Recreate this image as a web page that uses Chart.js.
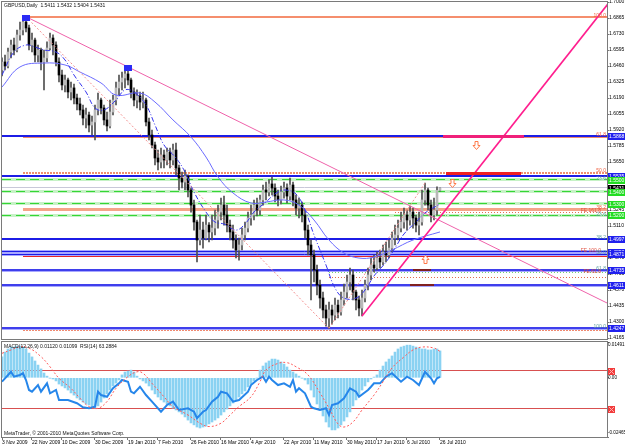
<!DOCTYPE html>
<html><head><meta charset="utf-8">
<script src="https://cdn.jsdelivr.net/npm/chart.js@4.4.1/dist/chart.umd.min.js"></script>
<style>
html,body{margin:0;padding:0;background:#fff;overflow:hidden;width:625px;height:446px}
#c1{position:absolute;left:0;top:0}
#c2{position:absolute;left:0;top:341px}
</style>
</head><body>
<canvas id="c1" width="625" height="341"></canvas>
<canvas id="c2" width="625" height="105"></canvas>
<script>
// ---------- DATA ----------
const titleText = 'GBPUSD,Daily  1.5411 1.5432 1.5404 1.5431';
const macdTitle = 'MACD(12,26,9) 0.01120 0.01099  RSI(14) 63.2884';
const copyrightText = 'MetaTrader, \u00A9 2001-2010 MetaQuotes Software Corp.';

const xTickIdx = [0,10,20,31,42,52,63,73,83,94,104,115,125,135,146];
const xTickLabels = ['3 Nov 2009','22 Nov 2009','10 Dec 2009','30 Dec 2009','19 Jan 2010','7 Feb 2010','26 Feb 2010','16 Mar 2010','4 Apr 2010','22 Apr 2010','11 May 2010','30 May 2010','17 Jun 2010','6 Jul 2010','26 Jul 2010'];
const priceTicks = [1.7000,1.6865,1.6730,1.6595,1.6460,1.6325,1.6190,1.6055,1.5920,1.5785,1.5650,1.5515,1.5380,1.5245,1.5110,1.4975,1.4840,1.4705,1.4570,1.4435,1.4300,1.4165];

const open = [1.6426,
1.6494,1.6460,1.6578,1.6637,1.6595,1.6722,1.6764,1.6831,1.6781,1.6637,
1.6679,1.6553,1.6595,1.6494,1.6528,1.6612,1.6696,1.6637,1.6494,1.6384,
1.6300,1.6342,1.6241,1.6275,1.6190,1.6140,1.6089,1.6021,1.6047,1.5962,
1.5988,1.6089,1.6173,1.6106,1.6005,1.5954,1.6072,1.6173,1.6275,1.6325,
1.6359,1.6393,1.6342,1.6241,1.6173,1.6207,1.6156,1.6173,1.5988,1.5878,
1.5794,1.5684,1.5650,1.5709,1.5667,1.5734,1.5667,1.5751,1.5600,1.5515,
1.5481,1.5532,1.5414,1.5287,1.5144,1.4992,1.5076,1.5009,1.5118,1.5060,
1.5093,1.5161,1.5228,1.5287,1.5203,1.5118,1.5060,1.4992,1.4908,1.4950,
1.5035,1.5093,1.5178,1.5203,1.5287,1.5245,1.5330,1.5414,1.5397,1.5465,
1.5431,1.5363,1.5330,1.5397,1.5431,1.5363,1.5456,1.5330,1.5262,1.5287,
1.5203,1.5076,1.4950,1.4866,1.4739,1.4612,1.4503,1.4402,1.4334,1.4402,
1.4359,1.4443,1.4385,1.4486,1.4553,1.4638,1.4697,1.4553,1.4486,1.4418,
1.4503,1.4612,1.4697,1.4781,1.4756,1.4840,1.4807,1.4891,1.4866,1.4924,
1.5009,1.5035,1.5093,1.5144,1.5203,1.5161,1.5228,1.5178,1.5118,1.5144,
1.5330,1.5414,1.5287,1.5203,1.5245,1.5411];
const high = [
1.6528,1.6553,1.6612,1.6679,1.6696,1.6764,1.6831,1.6865,1.6876,1.6806,
1.6738,1.6696,1.6637,1.6612,1.6595,1.6663,1.6738,1.6722,1.6663,1.6528,
1.6426,1.6384,1.6359,1.6325,1.6308,1.6224,1.6190,1.6131,1.6106,1.6072,
1.6038,1.6131,1.6232,1.6190,1.6131,1.6072,1.6173,1.6215,1.6325,1.6384,
1.6409,1.6426,1.6452,1.6359,1.6275,1.6258,1.6241,1.6241,1.6190,1.6021,
1.5920,1.5819,1.5751,1.5768,1.5751,1.5768,1.5768,1.5802,1.5810,1.5625,
1.5566,1.5583,1.5541,1.5431,1.5330,1.5160,1.5203,1.5144,1.5203,1.5140,
1.5203,1.5245,1.5287,1.5346,1.5363,1.5287,1.5161,1.5118,1.5035,1.5009,
1.5093,1.5144,1.5228,1.5287,1.5330,1.5346,1.5372,1.5456,1.5481,1.5498,
1.5524,1.5465,1.5414,1.5448,1.5481,1.5465,1.5515,1.5481,1.5372,1.5346,
1.5313,1.5245,1.5118,1.4992,1.4908,1.4781,1.4655,1.4553,1.4443,1.4469,
1.4443,1.4503,1.4486,1.4553,1.4621,1.4697,1.4756,1.4739,1.4570,1.4520,
1.4570,1.4655,1.4756,1.4840,1.4866,1.4891,1.4908,1.4950,1.4975,1.4992,
1.5060,1.5118,1.5161,1.5228,1.5262,1.5245,1.5279,1.5262,1.5203,1.5228,
1.5414,1.5473,1.5431,1.5330,1.5346,1.5440,1.5432];
const low = [
1.6376,1.6426,1.6443,1.6528,1.6553,1.6578,1.6679,1.6722,1.6747,1.6595,
1.6578,1.6494,1.6494,1.6426,1.6258,1.6494,1.6595,1.6553,1.6460,1.6325,
1.6258,1.6241,1.6190,1.6173,1.6140,1.6089,1.6047,1.5962,1.5937,1.5903,
1.5878,1.5836,1.6047,1.6055,1.5962,1.5912,1.5937,1.6047,1.6131,1.6215,
1.6258,1.6275,1.6300,1.6190,1.6123,1.6106,1.6089,1.6106,1.5954,1.5836,
1.5768,1.5625,1.5583,1.5600,1.5600,1.5625,1.5600,1.5625,1.5541,1.5414,
1.5431,1.5414,1.5355,1.5228,1.5076,1.4807,1.4950,1.4924,1.4992,1.4975,
1.4992,1.5035,1.5093,1.5161,1.5118,1.5060,1.4992,1.4924,1.4840,1.4823,
1.4908,1.4992,1.5060,1.5118,1.5161,1.5195,1.5203,1.5287,1.5330,1.5363,
1.5372,1.5313,1.5279,1.5296,1.5346,1.5304,1.5330,1.5279,1.5203,1.5178,
1.5144,1.5009,1.4866,1.4486,1.4638,1.4528,1.4418,1.4334,1.4266,1.4247,
1.4283,1.4317,1.4334,1.4359,1.4443,1.4503,1.4570,1.4486,1.4402,1.4351,
1.4351,1.4469,1.4570,1.4655,1.4722,1.4739,1.4756,1.4781,1.4807,1.4840,
1.4891,1.4950,1.4992,1.5060,1.5093,1.5076,1.5118,1.5093,1.5060,1.5035,
1.5118,1.5287,1.5245,1.5144,1.5161,1.5203,1.5404];
const close = [
1.6494,1.6460,1.6578,1.6637,1.6595,1.6722,1.6764,1.6831,1.6781,1.6637,
1.6679,1.6553,1.6595,1.6494,1.6528,1.6612,1.6696,1.6637,1.6494,1.6384,
1.6300,1.6342,1.6241,1.6275,1.6190,1.6140,1.6089,1.6021,1.6047,1.5962,
1.5988,1.6089,1.6173,1.6106,1.6005,1.5954,1.6072,1.6173,1.6275,1.6325,
1.6359,1.6393,1.6342,1.6241,1.6173,1.6207,1.6156,1.6173,1.5988,1.5878,
1.5794,1.5684,1.5650,1.5709,1.5667,1.5734,1.5667,1.5751,1.5600,1.5515,
1.5481,1.5532,1.5414,1.5287,1.5144,1.4992,1.5076,1.5009,1.5118,1.5060,
1.5093,1.5161,1.5228,1.5287,1.5203,1.5118,1.5060,1.4992,1.4908,1.4950,
1.5035,1.5093,1.5178,1.5203,1.5287,1.5245,1.5330,1.5414,1.5397,1.5465,
1.5431,1.5363,1.5330,1.5397,1.5431,1.5363,1.5456,1.5330,1.5262,1.5287,
1.5203,1.5076,1.4950,1.4866,1.4739,1.4612,1.4503,1.4402,1.4334,1.4402,
1.4359,1.4443,1.4385,1.4486,1.4553,1.4638,1.4697,1.4553,1.4486,1.4418,
1.4503,1.4612,1.4697,1.4781,1.4756,1.4840,1.4807,1.4891,1.4866,1.4924,
1.5009,1.5035,1.5093,1.5144,1.5203,1.5161,1.5228,1.5178,1.5118,1.5144,
1.5330,1.5414,1.5287,1.5203,1.5245,1.5411,1.5431];

const maSlowIdx = [0,6,14,21,26,33,38,46,51,57,63,68,72,77,83,88,94,99,104,109,114,119,124,130,137,146];
const maSlowVal = [1.6283,1.6452,1.6485,1.6469,1.6409,1.6317,1.6215,1.6232,1.6156,1.6005,1.5861,1.5692,1.5524,1.5389,1.5304,1.5313,1.5330,1.5287,1.5161,1.4992,1.4882,1.4840,1.4848,1.4908,1.4992,1.5060];
const maFastIdx = [0,4,8,11,14,18,21,24,28,31,34,38,41,44,48,51,54,58,61,64,68,71,74,78,81,84,88,91,94,98,101,104,108,111,114,118,121,124,128,131,134,138,141,146];
const maFastVal = [1.6384,1.6578,1.6637,1.6620,1.6595,1.6578,1.6511,1.6384,1.6241,1.6106,1.6089,1.6173,1.6258,1.6241,1.6131,1.5962,1.5794,1.5684,1.5566,1.5397,1.5228,1.5144,1.5127,1.5076,1.5127,1.5228,1.5313,1.5380,1.5414,1.5380,1.5245,1.5035,1.4781,1.4587,1.4502,1.4502,1.4570,1.4689,1.4806,1.4924,1.5043,1.5144,1.5220,1.5296];

// horizontal levels
const fibStartIdx = 7;
const fibLevels = [1.6876,1.5861,1.5555,1.5251,1.4857,1.4233];
const blueLevels = [1.5868,1.5535,1.4997,1.4893,1.4871,1.4735,1.4611,1.4247];
const greenLevels = [1.5500,1.5400,1.5300,1.5200];
const currentPrice = 1.5431;
const fePrices = [1.5224,1.5195,1.4714,1.4680];
const feStartIdx = [131,131,109,109];

// trend lines (anchor bar index / price)
const trendPinkIdx = [8,42],   trendPinkPrice = [1.6876,1.6452];
const trendUpIdx = [120,146],  trendUpPrice = [1.4351,1.5186];
const fibDiag1Idx = [8,109],   fibDiag1Price = [1.6876,1.4247];
const fibDiag2Idx = [109,141], fibDiag2Price = [1.4247,1.5473];
const segIdx = [[147,174],[148,173],[137,143],[136,144]];
const segPrice = [1.5865,1.5553,1.4739,1.4613];
const downArrowIdx = [158,150], downArrowPrice = [1.5827,1.5507];
const upArrowIdx = [141], upArrowPrice = [1.4866];
const markerIdx = [8,42], markerPrice = [1.6876,1.6452];

const levelTexts = ['100.0','61.8','50.0','23.6','38.2','FE 161.8','23.6','38.2','FE 100.0','50.0','61.8','FE 61.8','100.0'];
const levelTextPrices = [1.6876,1.5868,1.5562,1.5500,1.5251,1.5226,1.5195,1.4997,1.4893,1.4871,1.4735,1.4714,1.4247];
const boxLabelVals = [1.5868,1.5535,1.5500,1.5431,1.5400,1.5300,1.5200,1.4997,1.4893,1.4871,1.4735,1.4611,1.4247];

// MACD / RSI
const macdHist = [
0.0087,0.0107,0.0120,0.0128,0.0128,0.0132,0.0132,0.0128,0.0120,0.0103,
0.0087,0.0070,0.0053,0.0037,0.0020,0.0007,-0.0001,-0.0005,-0.0013,-0.0026,
-0.0034,-0.0042,-0.0051,-0.0063,-0.0072,-0.0084,-0.0092,-0.0101,-0.0109,-0.0113,
-0.0121,-0.0126,-0.0117,-0.0101,-0.0084,-0.0067,-0.0051,-0.0034,-0.0022,-0.0009,
0.0012,0.0024,0.0028,0.0032,0.0024,0.0007,-0.0005,-0.0013,-0.0022,-0.0034,
-0.0051,-0.0067,-0.0080,-0.0092,-0.0101,-0.0109,-0.0117,-0.0126,-0.0134,-0.0142,
-0.0151,-0.0163,-0.0176,-0.0188,-0.0196,-0.0205,-0.0209,-0.0205,-0.0201,-0.0192,
-0.0184,-0.0176,-0.0167,-0.0155,-0.0142,-0.0130,-0.0117,-0.0105,-0.0092,-0.0080,
-0.0067,-0.0055,-0.0038,-0.0026,-0.0013,-0.0001,0.0032,0.0049,0.0062,0.0070,
0.0078,0.0078,0.0074,0.0066,0.0057,0.0045,0.0032,0.0024,0.0016,0.0007,
-0.0001,-0.0009,-0.0026,-0.0051,-0.0080,-0.0109,-0.0134,-0.0159,-0.0184,-0.0205,
-0.0217,-0.0217,-0.0209,-0.0196,-0.0180,-0.0163,-0.0142,-0.0117,-0.0092,-0.0072,
-0.0051,-0.0034,-0.0017,-0.0005,0.0003,0.0012,0.0032,0.0049,0.0066,0.0078,
0.0091,0.0107,0.0120,0.0128,0.0132,0.0136,0.0136,0.0132,0.0128,0.0124,
0.0120,0.0120,0.0116,0.0116,0.0120,0.0120,0.0112];
const sigIdx = [0,3,6,9,13,16,19,23,26,29,32,35,38,42,45,47,50,54,57,62,66,69,73,76,79,83,86,88,92,95,98,102,106,109,112,114,117,120,124,127,130,134,137,140,144,146];
const sigVal = [0.0102,0.0116,0.0129,0.0124,0.0088,0.0046,-0.0002,-0.0044,-0.0085,-0.0120,-0.0127,-0.0099,-0.0044,0.0005,0.0025,0.0019,-0.0023,-0.0079,-0.0120,-0.0155,-0.0189,-0.0203,-0.0189,-0.0155,-0.0120,-0.0079,-0.0016,0.0032,0.0060,0.0063,0.0046,0.0012,-0.0063,-0.0126,-0.0192,-0.0205,-0.0184,-0.0134,-0.0072,-0.0017,0.0041,0.0087,0.0116,0.0128,0.0124,0.0110];
const rsiIdx = [0,1,3,4,6,7,8,9,10,12,13,15,16,18,19,22,25,27,29,31,32,33,35,37,39,40,42,43,44,46,48,50,53,55,57,59,62,64,65,67,68,70,72,73,75,77,79,82,83,85,87,88,89,90,92,94,96,97,98,99,101,103,104,106,108,109,110,112,114,116,118,119,122,123,124,126,128,130,133,135,137,139,141,143,144,145,146];
const rsiVal = [58.2,61.8,68.7,63.5,65.3,67.1,60.0,49.5,47.7,54.7,47.7,56.5,46.0,49.5,38.9,38.9,35.5,31.3,30.2,31.9,47.7,44.2,42.4,51.3,56.5,60.0,58.2,47.7,46.0,52.9,44.2,37.2,26.6,33.7,37.2,28.4,30.2,26.6,19.7,26.6,28.4,37.2,42.4,47.7,46.0,37.2,38.9,47.7,54.7,60.0,63.5,58.2,63.5,60.0,54.7,56.5,52.9,60.0,47.7,51.3,46.0,31.9,30.2,28.4,30.2,23.2,33.7,35.5,40.7,51.3,47.7,42.4,49.5,52.9,56.5,56.5,63.5,67.1,58.2,63.5,60.0,54.7,68.7,61.8,56.5,61.8,63.3];
const rsiLevels = [70,30];
const macdAxisVals = [0.01491,0,-0.02465];
const macdAxisText = ['0.01491','0.00','-0.02465'];

// ---------- STYLES ----------
const FONT = "'Liberation Sans',Arial,sans-serif";
Chart.defaults.font.family = FONT;
Chart.defaults.font.size = 5;
Chart.defaults.color = '#000';
const X_MAX = 201.667;
const fibStyles = [
  {c:'#f2683c',w:1.5,d:[]},{c:'#f08a6a',w:1,d:[]},{c:'#f0906e',w:2,d:[2,1]},
  {c:'#f5a488',w:3,d:[]},{c:'#e82525',w:2,d:[]},{c:'#f08a70',w:2,d:[2,1]}];
const blueStyles = [
  {halo:false,w:2},{halo:false,w:2},{halo:false,w:2},{halo:true,w:1},{halo:true,w:1},
  {halo:true,w:1.5},{halo:true,w:1.5},{halo:true,w:1.5}];
const feStyles = [{c:'#e07050',d:[1,2]},{c:'#50c850',d:[1,2]},{c:'#70d070',d:[1,2]},{c:'#e06a4a',d:[1,2]}];
const levelTextColors = ['#f06040','#f06040','#f06040','#5fa0a0','#f06040','#e05040','#5fa0a0','#5fa0a0','#e05040','#5fa0a0','#5fa0a0','#e05040','#5fa0a0'];
const boxColors = ['#2020ee','#2020ee','#22dd22','#000000','#22dd22','#22dd22','#22dd22','#2020ee','#2020ee','#2020ee','#2020ee','#2020ee','#2020ee'];
const segColors = ['#f0207a','#f02020','#802020','#802020'];
const segWidths = [3,3,2,2];

// ---------- helpers ----------
function hl(ctx,x1,x2,y,color,w,dash){
  ctx.beginPath(); ctx.setLineDash(dash||[]); ctx.strokeStyle=color; ctx.lineWidth=w;
  const yy = (Math.round(w)%2===1) ? Math.floor(y)+0.5 : Math.round(y);
  ctx.moveTo(x1,yy); ctx.lineTo(x2,yy); ctx.stroke(); ctx.setLineDash([]);
}
function seg(ctx,x1,y1,x2,y2,color,w,dash){
  ctx.beginPath(); ctx.setLineDash(dash||[]); ctx.strokeStyle=color; ctx.lineWidth=w;
  ctx.moveTo(x1,y1); ctx.lineTo(x2,y2); ctx.stroke(); ctx.setLineDash([]);
}
function arrow(ctx,x,y,down){
  const s = down?1:-1; const y0 = down?y:y+8;
  ctx.beginPath();
  ctx.moveTo(x-1.5,y0); ctx.lineTo(x+1.5,y0); ctx.lineTo(x+1.5,y0+4*s); ctx.lineTo(x+3.5,y0+4*s);
  ctx.lineTo(x,y0+8*s); ctx.lineTo(x-3.5,y0+4*s); ctx.lineTo(x-1.5,y0+4*s); ctx.closePath();
  ctx.fillStyle='#fff'; ctx.fill(); ctx.strokeStyle='#ff7a4a'; ctx.lineWidth=1; ctx.stroke();
}

// ---------- main panel decorations ----------
const mainDeco = {
  id:'mainDeco',
  beforeDatasetsDraw(chart){
    const {ctx, chartArea:a, scales:{x,y}} = chart;
    ctx.save(); ctx.beginPath(); ctx.rect(a.left,a.top,a.right-a.left,a.bottom-a.top); ctx.clip();
    hl(ctx,a.left,a.right,y.getPixelForValue(currentPrice),'#c8c8d8',1,[]);
    greenLevels.forEach(p=>{ const yy=y.getPixelForValue(p);
      hl(ctx,a.left,a.right,yy,'#c6f2c6',3,[]); hl(ctx,a.left,a.right,yy,'#35d635',1,[9,5]); });
    fePrices.forEach((p,k)=>{ hl(ctx,x.getPixelForValue(feStartIdx[k]),a.right,y.getPixelForValue(p),feStyles[k].c,1,feStyles[k].d); });
    fibLevels.forEach((p,k)=>{ const s=fibStyles[k]; hl(ctx,x.getPixelForValue(fibStartIdx),a.right,y.getPixelForValue(p),s.c,s.w,s.d); });
    blueLevels.forEach((p,k)=>{ const s=blueStyles[k]; const yy=y.getPixelForValue(p);
      if(s.halo) hl(ctx,a.left,a.right,yy,'#a8a8ff',3,[]);
      hl(ctx,a.left,a.right,yy,'#1c1ce6',s.w,[]); });
    ctx.restore();
  },
  afterDatasetsDraw(chart){
    const {ctx, chartArea:a, scales:{x,y}} = chart;
    ctx.save(); ctx.beginPath(); ctx.rect(a.left,a.top,a.right-a.left,a.bottom-a.top); ctx.clip();
    seg(ctx,x.getPixelForValue(fibDiag1Idx[0]),y.getPixelForValue(fibDiag1Price[0]),x.getPixelForValue(fibDiag1Idx[1]),y.getPixelForValue(fibDiag1Price[1]),'#f39090',1,[2,2]);
    seg(ctx,x.getPixelForValue(fibDiag2Idx[0]),y.getPixelForValue(fibDiag2Price[0]),x.getPixelForValue(fibDiag2Idx[1]),y.getPixelForValue(fibDiag2Price[1]),'#f39090',1,[2,2]);
    const ext = (ix,pr,color,w)=>{
      const x1=x.getPixelForValue(ix[0]), y1=y.getPixelForValue(pr[0]);
      const x2=x.getPixelForValue(ix[1]), y2=y.getPixelForValue(pr[1]);
      const k=(y2-y1)/(x2-x1); const xe=a.right+5; seg(ctx,x1,y1,xe,y1+k*(xe-x1),color,w,[]);
    };
    ext(trendPinkIdx,trendPinkPrice,'#ef62aa',1);
    ext(trendUpIdx,trendUpPrice,'#ff1e8e',1.6);
    segIdx.forEach((s,k)=>{ hl(ctx,x.getPixelForValue(s[0]),x.getPixelForValue(s[1]),y.getPixelForValue(segPrice[k]),segColors[k],segWidths[k],[]); });
    downArrowIdx.forEach((ix,k)=>arrow(ctx,Math.round(x.getPixelForValue(ix))+0.5,Math.round(y.getPixelForValue(downArrowPrice[k]))+0.5,true));
    upArrowIdx.forEach((ix,k)=>arrow(ctx,Math.round(x.getPixelForValue(ix))+0.5,Math.round(y.getPixelForValue(upArrowPrice[k]))+0.5,false));
    markerIdx.forEach((ix,k)=>{ const cx=x.getPixelForValue(ix), cy=y.getPixelForValue(markerPrice[k]);
      ctx.fillStyle='#2b2bf5'; ctx.fillRect(Math.round(cx-4),Math.round(cy-2),8,6); });
    ctx.font='5px '+FONT; ctx.textAlign='right'; ctx.textBaseline='bottom';
    levelTexts.forEach((t,k)=>{ ctx.fillStyle=levelTextColors[k];
      const xr = t.startsWith('FE') ? a.right-6 : a.right-1;
      ctx.fillText(t,xr,y.getPixelForValue(levelTextPrices[k])+1); });
    ctx.restore();
  },
  afterDraw(chart){
    const {ctx, chartArea:a, scales:{y}} = chart;
    ctx.save();
    ctx.strokeStyle='#7a7a7a'; ctx.lineWidth=1;
    ctx.strokeRect(a.left-0.5,a.top-0.5,a.right-a.left+1,a.bottom-a.top+1);
    ctx.font='5px '+FONT; ctx.textAlign='left'; ctx.textBaseline='middle';
    boxLabelVals.forEach((v,k)=>{ const yy=Math.round(y.getPixelForValue(v));
      ctx.fillStyle=boxColors[k]; ctx.fillRect(a.right+1,yy-3,17,7);
      ctx.fillStyle='#fff'; ctx.fillText(v.toFixed(4),a.right+2,yy+0.5); });
    ctx.fillStyle='#111'; ctx.textBaseline='top'; ctx.font='5px '+FONT;
    ctx.fillText(titleText,a.left+2,a.top+1);
    ctx.restore();
  }
};

const idx = close.map((_,i)=>i);
const wickData = idx.map(i=>({x:i,y:[low[i],high[i]]}));
const bullData = [], bearData = [];
idx.forEach(i=>{ const d={x:i,y:[open[i],close[i]]}; (close[i]>=open[i]?bullData:bearData).push(d); });

new Chart(document.getElementById('c1'),{
  type:'bar',
  data:{datasets:[
    {type:'line',label:'MA fast',data:maFastIdx.map((v,k)=>({x:v,y:maFastVal[k]})),borderColor:'#3434ee',borderWidth:1,borderDash:[5,2,1,2],pointRadius:0,tension:0.4,order:1},
    {type:'line',label:'MA slow',data:maSlowIdx.map((v,k)=>({x:v,y:maSlowVal[k]})),borderColor:'#6b6bff',borderWidth:1,pointRadius:0,tension:0.4,order:2},
    {type:'bar',label:'bull',data:bullData,backgroundColor:'#b8b8b8',barThickness:2,grouped:false,minBarLength:1,order:3},
    {type:'bar',label:'bear',data:bearData,backgroundColor:'#000',barThickness:2,grouped:false,minBarLength:1,order:3},
    {type:'bar',label:'wick',data:wickData,backgroundColor:'#505050',barThickness:1,grouped:false,order:4}
  ]},
  options:{
    responsive:false,animation:false,events:[],
    layout:{padding:{left:2,top:2,right:0,bottom:2}},
    plugins:{legend:{display:false},tooltip:{enabled:false}},
    scales:{
      x:{type:'linear',min:0,max:X_MAX,offset:false,display:false,grid:{offset:false}},
      y:{position:'right',min:1.4157,max:1.7,
        afterFit(s){s.width=18;s.paddingTop=0;s.paddingBottom=0;},
        afterBuildTicks(s){s.ticks=priceTicks.map(v=>({value:v}));},
        ticks:{autoSkip:false,padding:0,callback:v=>Number(v).toFixed(4),font:{size:5}},
        grid:{drawOnChartArea:false,tickLength:2,color:'#777'},border:{color:'#777'}}
    }
  },
  plugins:[mainDeco]
});

// ---------- MACD / RSI panel ----------
const macdDeco = {
  id:'macdDeco',
  beforeDatasetsDraw(chart){
    const {ctx, chartArea:a, scales} = chart;
    ctx.save();
    rsiLevels.forEach(v=>hl(ctx,a.left,a.right,scales.y2.getPixelForValue(v),'#d85050',1,[]));
    ctx.restore();
  },
  afterDraw(chart){
    const {ctx, chartArea:a, scales} = chart;
    ctx.save();
    ctx.strokeStyle='#7a7a7a'; ctx.lineWidth=1;
    ctx.strokeRect(a.left-0.5,a.top-0.5,a.right-a.left+1,a.bottom-a.top+1);
    ctx.font='5px '+FONT; ctx.fillStyle='#111'; ctx.textAlign='left'; ctx.textBaseline='top';
    ctx.fillText(macdTitle,a.left+2,a.top+2);
    ctx.textBaseline='bottom';
    ctx.fillText(copyrightText,a.left+2,a.bottom-1);
    ctx.textBaseline='middle'; ctx.fillStyle='#000'; ctx.font='4.6px '+FONT;
    macdAxisVals.forEach((v,k)=>{ let yy=scales.y.getPixelForValue(v);
      yy=Math.min(Math.max(yy,a.top+3),a.bottom-4);
      ctx.fillText(macdAxisText[k],a.right+1,yy); });
    rsiLevels.forEach(v=>{ const yy=Math.round(scales.y2.getPixelForValue(v));
      ctx.fillStyle='#f23c3c'; ctx.fillRect(a.right+1,yy-3,7,7);
      ctx.strokeStyle='#ffb0b0'; ctx.lineWidth=1;
      ctx.beginPath(); ctx.moveTo(a.right+2,yy-2); ctx.lineTo(a.right+7,yy+3); ctx.moveTo(a.right+7,yy-2); ctx.lineTo(a.right+2,yy+3); ctx.stroke(); });
    ctx.restore();
  }
};

new Chart(document.getElementById('c2'),{
  type:'bar',
  data:{datasets:[
    {type:'line',label:'Signal',data:sigIdx.map((v,k)=>({x:v,y:sigVal[k]})),borderColor:'#ff5a5a',borderWidth:1,borderDash:[2,2],pointRadius:0,tension:0.4,yAxisID:'y',order:1},
    {type:'line',label:'RSI',data:rsiIdx.map((v,k)=>({x:v,y:rsiVal[k]})),borderColor:'#2686ea',borderWidth:2,pointRadius:0,tension:0,yAxisID:'y2',order:2},
    {type:'bar',label:'MACD',data:macdHist.map((v,i)=>({x:i,y:v})),backgroundColor:'#8ad2f2',barThickness:2,grouped:false,yAxisID:'y',order:3}
  ]},
  options:{
    responsive:false,animation:false,events:[],
    layout:{padding:{left:2,top:1,right:0,bottom:0}},
    plugins:{legend:{display:false},tooltip:{enabled:false}},
    scales:{
      x:{type:'linear',min:0,max:X_MAX,offset:false,position:'bottom',
        afterFit(s){s.height=9;s.paddingLeft=0;s.paddingRight=0;},
        afterBuildTicks(s){s.ticks=xTickIdx.map(v=>({value:v}));},
        ticks:{autoSkip:false,maxRotation:0,minRotation:0,align:'start',padding:0,callback:(v,i)=>xTickLabels[i],font:{size:5}},
        grid:{drawOnChartArea:false,tickLength:3,color:'#777',offset:false},border:{color:'#777'}},
      y:{position:'right',min:-0.02465,max:0.01491,
        afterFit(s){s.width=18;s.paddingTop=0;s.paddingBottom=0;},
        afterBuildTicks(s){s.ticks=macdAxisVals.map(v=>({value:v}));},
        ticks:{display:false},
        grid:{drawOnChartArea:false,tickLength:2,color:'#777'},border:{color:'#777'}},
      y2:{display:false,min:0,max:100}
    }
  },
  plugins:[macdDeco]
});
</script>
</body></html>
